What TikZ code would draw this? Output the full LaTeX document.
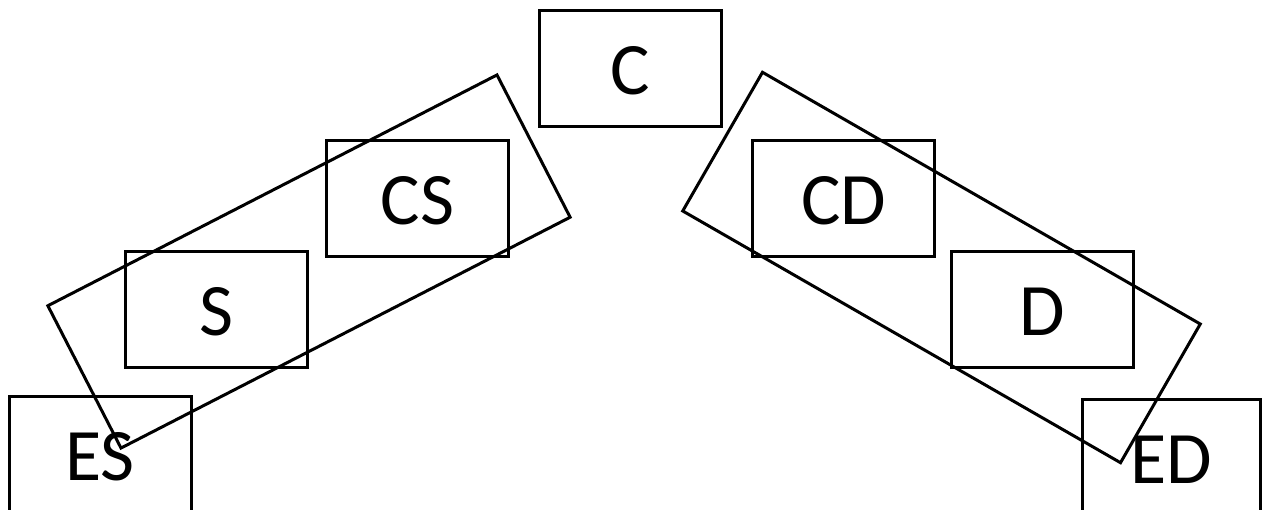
\documentclass[tikz,border=0pt]{standalone}
\usepackage{fontspec}
\setmainfont{Carlito}
\begin{document}
\begin{tikzpicture}[x=1pt,y=-1pt,
	box/.style={draw,line width=3pt,minimum width=182pt,minimum height=116pt,inner sep=0pt,text height=52pt,text depth=0pt,font=\fontsize{74}{80}\selectfont},
	grp/.style={draw,line width=3pt,minimum width=505pt,minimum height=160pt,inner sep=0pt}]
	\useasboundingbox (0,0) rectangle (1262,510);
	
	\node[box] (C) at (630.5,68.5) {C};
	\node[box] (CS) at (417.5,199) {CS};
	\node[box] (S) at (216,310) {S};
	\node[box] (ES) at (100,454.5) {ES};
	\node[box] (CD) at (843.5,199) {CD};
	\node[box] (D) at (1042.5,309.5) {D};
	\node[box,minimum width=178pt] (ED) at (1171,457.5) {ED};
	
	\node[grp,rotate=27.2] (grpS) at (309,261.5) {};
	\node[grp,rotate=-29.9] (grpD) at (941.5,267.5) {};
\end{tikzpicture}
\end{document}
